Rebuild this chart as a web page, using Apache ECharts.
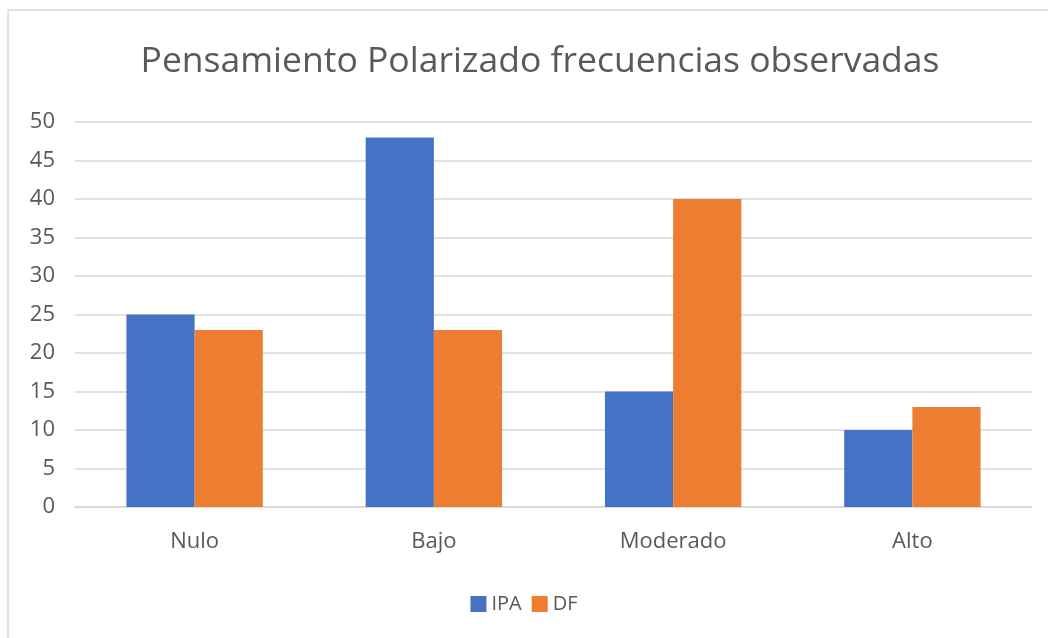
<!DOCTYPE html>
<html>
<head>
<meta charset="utf-8">
<script src="https://cdn.jsdelivr.net/npm/echarts@6/dist/echarts.min.js"></script>
<style>
  html, body { margin: 0; padding: 0; background: #fff; }
  #chart { width: 1048px; height: 638px; }
</style>
</head>
<body>
<div id="chart"></div>
<script>
const categories = ['Nulo', 'Bajo', 'Moderado', 'Alto']
const ipaValues = [25, 48, 15, 10]
const dfValues = [23, 23, 40, 13]
const yTicks = { min: 0, max: 50, interval: 5 }

const font = '"Open Sans", "Noto Sans", sans-serif'
const mychart = echarts.init(document.getElementById('chart'))
const option = {
  backgroundColor: '#fff',
  animation: false,
  graphic: [
    {
      type: 'rect',
      shape: { x: 8, y: 10, width: 1200, height: 800 },
      style: { fill: 'none', stroke: '#d9d9d9', lineWidth: 1.5 },
      silent: true
    }
  ],
  title: {
    text: 'Pensamiento Polarizado frecuencias observadas',
    left: 535,
    textAlign: 'center',
    top: 39,
    textStyle: {
      fontFamily: font,
      fontSize: 35.5,
      fontWeight: 'normal',
      color: '#595959'
    }
  },
  legend: {
    data: ['IPA', 'DF'],
    left: 'center',
    top: 594,
    padding: [0, 0, 0, 0],
    itemWidth: 16,
    itemHeight: 16,
    itemGap: 10,
    icon: 'rect',
    textStyle: { fontFamily: font, fontSize: 20, color: '#595959' }
  },
  grid: {
    left: 75,
    right: 16,
    top: 122,
    bottom: 131,
    containLabel: false
  },
  xAxis: {
    type: 'category',
    data: categories,
    axisTick: { show: false },
    axisLine: { lineStyle: { color: '#d9d9d9', width: 1.5 } },
    axisLabel: {
      margin: 24,
      fontFamily: font,
      fontSize: 22,
      color: '#595959'
    }
  },
  yAxis: {
    type: 'value',
    min: yTicks.min,
    max: yTicks.max,
    interval: yTicks.interval,
    axisLine: { show: false },
    axisTick: { show: false },
    splitLine: { lineStyle: { color: '#d9d9d9', width: 1.5 } },
    axisLabel: {
      margin: 20,
      fontFamily: font,
      fontSize: 22,
      color: '#595959'
    }
  },
  series: [
    {
      name: 'IPA',
      type: 'bar',
      data: ipaValues,
      barGap: '0%',
      barCategoryGap: '43%',
      itemStyle: { color: '#4472c4' }
    },
    {
      name: 'DF',
      type: 'bar',
      data: dfValues,
      barGap: '0%',
      barCategoryGap: '43%',
      itemStyle: { color: '#ed7d31' }
    }
  ]
}
mychart.setOption(option)
</script>
</body>
</html>
